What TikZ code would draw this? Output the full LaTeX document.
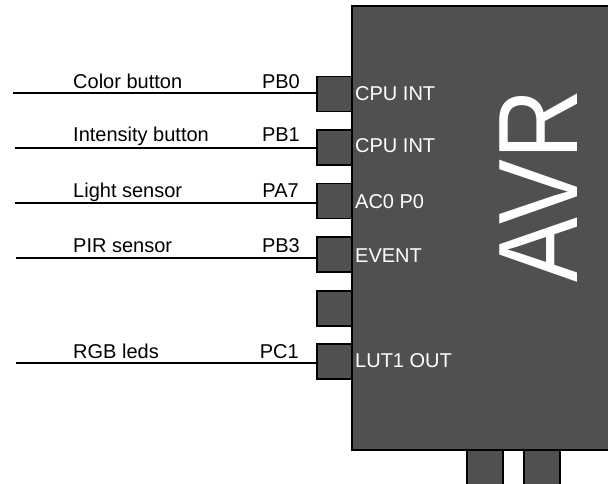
\documentclass[tikz,border=0pt]{standalone}
\usepackage{fontspec}
\setmainfont{Liberation Sans}
\begin{document}
\begin{tikzpicture}[
    x=1pt, y=-1pt,
    every node/.style={font=\fontsize{20}{22}\selectfont},
    line join=miter
]

% Colors
\definecolor{chipgray}{RGB}{80,80,80}

\tikzset{
    pinbox/.style={draw=black, fill=chipgray, line width=1.8pt,
        minimum width=35pt, minimum height=35pt, inner sep=0pt},
    wire/.style={draw=black, line width=2pt},
    chiptext/.style={text=white, anchor=west, inner sep=0pt},
    sigtext/.style={anchor=base west, inner sep=0pt},
    porttext/.style={anchor=base east, inner sep=0pt}
}

\clip (0,0) rectangle (608,484);

% ----------------------------------------------------
% Chip body
% ----------------------------------------------------
\path[fill=chipgray, draw=black, line width=1.8pt]
(352,6) rectangle (640,450);

\node[rotate=90, xscale=0.86, text=white, inner sep=0pt,
      font=\fontsize{113}{113}\selectfont] (avr) at (538.5,186) {AVR};

% ----------------------------------------------------
% Pins
% ----------------------------------------------------
\node[pinbox] (pin1) at (334.5,94) {};
\node[pinbox] (pin2) at (334.5,147.5) {};
\node[pinbox] (pin3) at (334.5,201) {};
\node[pinbox] (pin4) at (334.5,254.5) {};
\node[pinbox] (pin5) at (334.5,308.5) {};
\node[pinbox] (pin6) at (334.5,361.5) {};

\node[pinbox, minimum width=36pt, minimum height=40pt] (bot1) at (485,470) {};
\node[pinbox, minimum width=36pt, minimum height=40pt] (bot2) at (542,470) {};

% ----------------------------------------------------
% Pin functions
% ----------------------------------------------------
\node[chiptext] (fn1) at (355,94) {CPU INT};
\node[chiptext] (fn2) at (355,146) {CPU INT};
\node[chiptext] (fn3) at (355,202) {AC0 P0};
\node[chiptext] (fn4) at (355,255.5) {EVENT};
\node[chiptext] (fn6) at (355,360.5) {LUT1 OUT};

% ----------------------------------------------------
% Signal lines
% ----------------------------------------------------
\coordinate (s1) at (13,93.5);
\coordinate (s2) at (15,148);
\coordinate (s3) at (15,203);
\coordinate (s4) at (16,257.5);
\coordinate (s6) at (16,363);

\draw[wire] (s1) -- (s1 -| pin1.west);
\draw[wire] (s2) -- (s2 -| pin2.west);
\draw[wire] (s3) -- (s3 -| pin3.west);
\draw[wire] (s4) -- (s4 -| pin4.west);
\draw[wire] (s6) -- (s6 -| pin6.west);

% ----------------------------------------------------
% Labels
% ----------------------------------------------------
\node[sigtext] (lbl1) at (73,89) {Color button};
\node[sigtext] (lbl2) at (73,142) {Intensity button};
\node[sigtext] (lbl3) at (73,197) {Light sensor};
\node[sigtext] (lbl4) at (73,252) {PIR sensor};
\node[sigtext] (lbl6) at (73,358) {RGB leds};

\node[porttext] (port1) at (300,89) {PB0};
\node[porttext] (port2) at (300,142) {PB1};
\node[porttext] (port3) at (299,197) {PA7};
\node[porttext] (port4) at (300,252) {PB3};
\node[porttext] (port6) at (299,358) {PC1};

\end{tikzpicture}
\end{document}
